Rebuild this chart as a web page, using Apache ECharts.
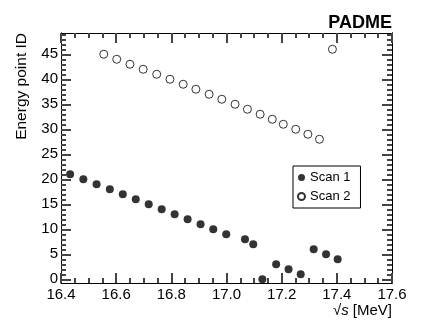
<!DOCTYPE html>
<html>
<head>
<meta charset="utf-8">
<script src="https://cdn.jsdelivr.net/npm/echarts@6/dist/echarts.min.js"></script>
<style>
  html, body { margin: 0; padding: 0; background: #fff; }
  #chart { width: 436px; height: 331px; }
</style>
</head>
<body>
<div id="chart"></div>
<script>
// scan 1 (filled markers)
const scan1X = [16.433, 16.481, 16.529, 16.577, 16.624, 16.671, 16.718, 16.765, 16.812, 16.859, 16.906,
  16.952, 16.999, 17.067, 17.097, 17.130, 17.180, 17.225, 17.269, 17.316, 17.361, 17.403]
const scan1Y = [21, 20, 19, 18, 17, 16, 15, 14, 13, 12, 11, 10, 9, 8, 7, 0, 3, 2, 1, 6, 5, 4]

// scan 2 (open markers)
const scan2X = [16.555, 16.602, 16.650, 16.698, 16.747, 16.795, 16.843, 16.889, 16.937, 16.983,
  17.031, 17.076, 17.122, 17.166, 17.206, 17.251, 17.295, 17.337, 17.384]
const scan2Y = [45, 44, 43, 42, 41, 40, 39, 38, 37, 36, 35, 34, 33, 32, 31, 30, 29, 28, 46]

const yMajorTicks = [0, 5, 10, 15, 20, 25, 30, 35, 40, 45]
const yMinorTicks = [1, 2, 3, 4, 6, 7, 8, 9, 11, 12, 13, 14, 16, 17, 18, 19, 21, 22, 23, 24,
  26, 27, 28, 29, 31, 32, 33, 34, 36, 37, 38, 39, 41, 42, 43, 44, 46, 47, 48, 49]

const FONT = '"Liberation Sans", Arial, Helvetica, sans-serif'
const TICK = { color: '#444', width: 2 }

const xAxisDef = (position, showLabel) => ({
  type: 'value',
  position,
  min: 16.4,
  max: 17.6,
  interval: 0.2,
  axisLine: { show: true, onZero: false, lineStyle: { color: '#000', width: 1 } },
  axisTick: { show: true, inside: true, length: 10, lineStyle: TICK },
  minorTick: { show: true, splitNumber: 4, length: 5, lineStyle: TICK },
  axisLabel: { show: showLabel, color: '#000', fontFamily: FONT, fontSize: 15, margin: 4, formatter: x => x.toFixed(1) },
  splitLine: { show: false }
})

const yAxisDef = (position, ticks, len, showLabel) => ({
  type: 'value',
  position,
  min: -0.75,
  max: 49.25,
  axisLine: { show: true, lineStyle: { color: '#000', width: 1 } },
  axisTick: { show: true, inside: true, length: len, customValues: ticks, lineStyle: TICK },
  axisLabel: { show: showLabel, customValues: yMajorTicks, color: '#000', fontFamily: FONT, fontSize: 15, margin: 3 },
  splitLine: { show: false }
})

const chart = echarts.init(document.getElementById('chart'))
chart.setOption({
  animation: false,
  backgroundColor: '#fff',
  grid: { left: 61, right: 44, top: 33, bottom: 48 },
  xAxis: [xAxisDef('bottom', true), xAxisDef('top', false)],
  yAxis: [
    yAxisDef('left', yMajorTicks, 10, true),
    yAxisDef('left', yMinorTicks, 5, false),
    yAxisDef('right', yMajorTicks, 10, false),
    yAxisDef('right', yMinorTicks, 5, false)
  ],
  legend: {
    orient: 'vertical',
    left: 293,
    top: 166,
    padding: [5, 10, 5, 4],
    itemWidth: 7,
    itemHeight: 7,
    itemGap: 6,
    borderColor: '#000',
    borderWidth: 1,
    textStyle: { color: '#000', fontFamily: FONT, fontSize: 13 },
    data: [
      { name: 'Scan 1', icon: 'circle' },
      { name: 'Scan 2', icon: 'circle' }
    ]
  },
  graphic: [
    { type: 'text', right: 44, top: 14, style: { text: 'PADME', fill: '#000', font: 'bold 18px ' + FONT } },
    {
      type: 'text',
      x: 22,
      y: 33,
      rotation: Math.PI / 2,
      style: { text: 'Energy point ID', fill: '#000', font: '15.5px ' + FONT, align: 'right', verticalAlign: 'middle' }
    },
    {
      type: 'text',
      right: 44,
      top: 303,
      style: {
        text: '{n|√}{i|s}{n| [MeV]}',
        rich: {
          n: { fill: '#000', fontFamily: FONT, fontSize: 15 },
          i: { fill: '#000', fontFamily: FONT, fontSize: 15, fontStyle: 'italic' }
        }
      }
    }
  ],
  series: [
    {
      name: 'Scan 1',
      type: 'scatter',
      xAxisIndex: 0,
      yAxisIndex: 0,
      symbolSize: 8,
      itemStyle: { color: '#000' },
      data: scan1X.map((x, i) => [x, scan1Y[i]])
    },
    {
      name: 'Scan 2',
      type: 'scatter',
      xAxisIndex: 0,
      yAxisIndex: 0,
      symbolSize: 8,
      itemStyle: { color: '#fff', borderColor: '#000', borderWidth: 1 },
      data: scan2X.map((x, i) => [x, scan2Y[i]])
    }
  ]
})
</script>
</body>
</html>
